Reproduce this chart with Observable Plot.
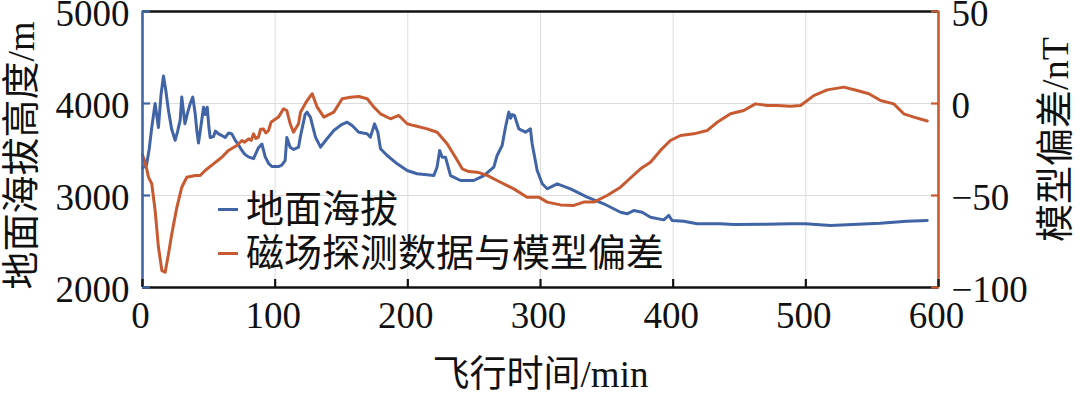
<!DOCTYPE html>
<html><head><meta charset="utf-8">
<script src="https://cdn.jsdelivr.net/npm/d3@7"></script>
<script src="https://cdn.jsdelivr.net/npm/@observablehq/plot@0.6"></script>
<style>
body{margin:0;background:#fff;}
#wrap{position:relative;width:1080px;height:394px;overflow:hidden;}
.legend{position:absolute;left:218px;top:187px;font-family:"Liberation Serif","Noto Sans CJK SC",serif;font-size:38px;line-height:44px;color:#111;}
.legend div{display:flex;align-items:center;height:44px;}
.legend .sw{display:inline-block;width:20px;height:3px;margin-right:8px;}
</style></head>
<body><div id="wrap"></div>
<script>
// flight time (min) and ground altitude (m)
const altT=[0,3,5,7,9.5,12,14,15.8,17.5,19.6,22,24.6,26.5,28.4,29.6,31,32,34,36,37.9,39.7,41,42.2,44,46,47.2,48.8,50,51,53.5,55,57.3,60,62.3,65,67.3,69.9,72,74.9,77,79.9,83.7,87.4,90,92.5,95,97.5,102.5,105,107.5,108.8,110,111.3,114,117.6,119,122.6,124,126.6,128.5,130.4,134.2,138,144.2,150,154.3,158,163,169.3,171.8,174.9,177.4,179.4,184.4,192,199.5,207,219.6,222,224,225.9,228.4,232.2,239.7,249.7,257.3,264.8,267.3,271.1,273.6,276.1,277.5,278.7,280.4,283.6,288.7,292.4,293.7,297.5,301.3,305,312.6,322.6,335.2,347.7,360.3,365.3,370.3,376.6,382.9,392.9,396.7,399.2,408,418,435.5,445.7,470,488.4,499.7,518.6,531,556,576,591.5];
const altV=[3300,3330,3500,3740,4000,3740,4100,4300,4150,3920,3720,3600,3700,3820,4070,3900,3780,3900,4000,4070,3890,3700,3570,3750,3960,3880,3960,3750,3630,3640,3700,3670,3650,3630,3680,3670,3600,3560,3490,3450,3420,3400,3520,3560,3420,3350,3315,3315,3330,3380,3630,3580,3525,3500,3525,3640,3880,3906,3850,3740,3634,3525,3598,3706,3770,3797,3761,3688,3671,3634,3779,3688,3508,3435,3344,3272,3236,3217,3308,3489,3416,3416,3217,3163,3163,3217,3308,3435,3543,3742,3906,3840,3880,3870,3725,3688,3725,3562,3272,3127,3073,3127,3073,2982,2910,2818,2801,2837,2818,2764,2735,2783,2728,2721,2692,2692,2685,2688,2692,2692,2674,2681,2699,2721,2728];
// flight time (min) and magnetic deviation from model (nT)
const magT=[0,1.5,3,4.5,7,9.5,12,14.6,17.1,19.6,22.1,25.9,29.6,33.4,39.7,43.5,47.2,53.5,59.8,64.8,71.1,74.9,77,79.9,82,83.7,85.5,87.4,89,91.2,93,95,97,98.7,102.5,106.3,108.8,111.3,113.8,117.6,119.1,122.6,124.1,127.9,131.7,136.7,144.2,150.5,156.8,163,169.4,174.4,179.4,186.9,193.2,199.5,204.5,214.6,222.1,229.6,235.9,241,246,252.3,259.8,269.8,279.9,289.9,298.7,305,315.1,325.1,332.6,340.2,350.2,360.3,367.8,375.4,382.9,390.4,397.9,405.5,415.5,425.6,433.2,443.2,453.2,462,470.9,478.4,488.4,496,506,516.1,528.6,538.7,547.5,556.3,566.3,573.8,581.4,591.5];
const magV=[-28,-31,-35,-40,-43.7,-58,-78,-90.8,-91.7,-81.7,-70.8,-56.4,-45.5,-40.1,-39.1,-39.1,-36.4,-32.8,-29.2,-25.5,-22.8,-20.1,-21,-19.2,-20,-16.5,-19,-18.3,-14,-13.8,-16,-14.7,-10,-9.2,-7.4,-2.9,-3.8,-11,-15.6,-11,-4.7,-0.2,1.6,5.3,-2,-7.4,-4.7,2.6,3.4,3.8,2.6,-2,-5.6,-8.3,-6.5,-11,-12,-13.8,-15.6,-21.9,-29.2,-35.5,-37,-37.3,-39.1,-42.8,-46.4,-50.9,-50.9,-53.6,-55.1,-55.4,-53.6,-53.6,-50,-45.5,-40.5,-35.5,-31.9,-25.5,-20.1,-17.4,-16.5,-14.7,-10.2,-5.6,-3.8,-0.2,-1.1,-1.1,-1.5,-1.1,4.3,7.4,8.9,7.1,5.3,1.6,-0.2,-5.6,-7.4,-9.5];
const xTicks=[0,100,200,300,400,500,600];
const altTicks=[2000,3000,4000,5000];
const magTicks=[-100,-50,0,50];
const seriesNames=["地面海拔","磁场探测数据与模型偏差"];
const xLabel="飞行时间/min", yLabel="地面海拔高度/m", y2Label="模型偏差/nT";

const BLUE="#4164a6", ORANGE="#c85a32";
const FONT='"Liberation Serif","Noto Sans CJK SC",serif';
const altDom=[2000,5000], magDom=[-100,50];
const toAlt=v=>altDom[0]+(v-magDom[0])*(altDom[1]-altDom[0])/(magDom[1]-magDom[0]);
const minus=v=>String(v).replace("-","\u2212");

const altData=altT.map((t,i)=>({t,v:altV[i]}));
const magData=magT.map((t,i)=>({t,v:toAlt(magV[i])}));
const tickTxt={fontSize:37,fontFamily:FONT,fill:"#111"};

const chart=Plot.plot({
  width:1080,height:394,marginLeft:142,marginRight:142,marginTop:11,marginBottom:107,
  style:{fontFamily:FONT,fontSize:"36px",color:"#111",background:"#fff",overflow:"visible"},
  x:{domain:[0,600]},
  y:{domain:altDom},
  marks:[
    Plot.gridX(xTicks.slice(1,-1),{stroke:"#dcdcdc",strokeOpacity:1,strokeWidth:1}),
    Plot.gridY(altTicks.slice(1,-1),{stroke:"#dcdcdc",strokeOpacity:1,strokeWidth:1}),
    Plot.line(altData,{x:"t",y:"v",stroke:BLUE,strokeWidth:3}),
    Plot.line(magData,{x:"t",y:"v",stroke:ORANGE,strokeWidth:3}),
    Plot.ruleY([altDom[1]],{stroke:"#111",strokeWidth:2.6}),
    Plot.ruleY([altDom[0]],{stroke:"#111",strokeWidth:2.6}),
    Plot.ruleX([0],{stroke:BLUE,strokeWidth:2.6}),
    Plot.ruleX([600],{stroke:ORANGE,strokeWidth:2.6}),
    Plot.axisX({ticks:xTicks,tickSize:-8,stroke:"#111",strokeWidth:2.2,tickFormat:()=>"",label:null}),
    Plot.axisY({ticks:altTicks,anchor:"left",tickSize:-8,stroke:BLUE,strokeWidth:2.2,tickFormat:()=>"",label:null}),
    Plot.axisY({ticks:magTicks.map(toAlt),anchor:"right",tickSize:-8,stroke:ORANGE,strokeWidth:2.2,tickFormat:()=>"",label:null}),
    Plot.text(xTicks,{x:d=>d,frameAnchor:"bottom",textAnchor:"middle",lineAnchor:"middle",dx:-2,dy:29,text:d=>String(d),...tickTxt}),
    Plot.text(altTicks,{y:d=>d,frameAnchor:"left",textAnchor:"end",lineAnchor:"middle",dx:-13,dy:3,text:d=>String(d),...tickTxt}),
    Plot.text(magTicks,{y:d=>toAlt(d),frameAnchor:"right",textAnchor:"start",lineAnchor:"middle",dx:13,dy:3,text:d=>minus(d),...tickTxt}),
    Plot.text([xLabel],{frameAnchor:"bottom",textAnchor:"middle",lineAnchor:"middle",dy:88,fontSize:37,fontFamily:FONT,fill:"#111"}),
    Plot.text([yLabel],{frameAnchor:"left",textAnchor:"middle",lineAnchor:"middle",rotate:-90,dx:-121,dy:6,fontSize:38,fontFamily:FONT,fill:"#111"}),
    Plot.text([y2Label],{frameAnchor:"right",textAnchor:"middle",lineAnchor:"middle",rotate:-90,dx:117,dy:-10,fontSize:38,fontFamily:FONT,fill:"#111"})
  ]
});
const wrap=document.getElementById("wrap");
wrap.appendChild(chart);
const leg=document.createElement("div");
leg.className="legend";
leg.innerHTML=seriesNames.map((n,i)=>`<div><span class="sw" style="background:${[BLUE,ORANGE][i]}"></span><span>${n}</span></div>`).join("");
wrap.appendChild(leg);
</script>
</body></html>
